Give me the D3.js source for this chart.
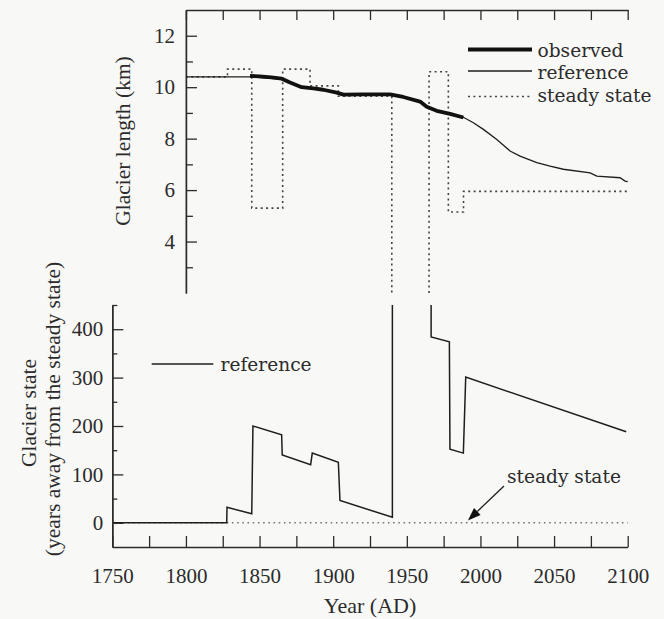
<!DOCTYPE html>
<html>
<head>
<meta charset="utf-8">
<script src="https://cdn.jsdelivr.net/npm/d3@7/dist/d3.min.js"></script>
<style>
  html, body { margin: 0; padding: 0; background: #f8f8f6; }
  svg { display: block; }
</style>
</head>
<body>
<svg id="chart" width="664" height="619"></svg>
<script>
// ---------------- DATA ----------------
// Top panel: glacier length (km)
const refTopYears = [1800, 1843.5, 1865.1, 1870.7, 1878.6, 1886.5, 1893.3, 1902.4, 1906.9, 1938.6, 1947.6, 1959.0, 1963.5, 1970.3, 1979.4, 1988.4, 1995.2, 2002.0, 2011.1, 2020.1, 2026.9, 2038.3, 2047.3, 2056.3, 2074.5, 2079.0, 2094.8, 2098.2, 2100];
const refTopKm    = [10.40, 10.40, 10.31, 10.18, 9.99, 9.95, 9.90, 9.79, 9.70, 9.70, 9.62, 9.45, 9.26, 9.09, 8.96, 8.83, 8.62, 8.36, 7.97, 7.52, 7.32, 7.07, 6.93, 6.81, 6.67, 6.54, 6.48, 6.35, 6.33];

const obsYears = [1843.5, 1850, 1858, 1865.1, 1870.7, 1878.6, 1886.5, 1893.3, 1902.4, 1906.9, 1920, 1938.6, 1947.6, 1959.0, 1963.5, 1970.3, 1979.4, 1988.4];
const obsKm    = [10.44, 10.42, 10.38, 10.33, 10.18, 10.00, 9.95, 9.90, 9.79, 9.71, 9.72, 9.72, 9.62, 9.44, 9.24, 9.08, 8.96, 8.82];

// steady-state length, value holds from its year until the next year (null = off scale)
const ssYears = [1800, 1828.2, 1844.7, 1865.7, 1884.3, 1903.5, 1939.8, 1965.1, 1978.2, 1988.5, 2100];
const ssKm    = [10.40, 10.70, 5.30, 10.70, 10.05, 9.65, null, 10.60, 5.15, 5.95, 5.95];

// Bottom panel: glacier state (years away from the steady state); Infinity = off scale
const stateYears = [1750, 1827.7, 1827.9, 1844.7, 1845.5, 1865.0, 1865.4, 1884.7, 1885.8, 1903.5, 1904.6, 1940.2, 1940.2, 1966.5, 1966.5, 1978.9, 1979.3, 1988.4, 1990.0, 2099.0];
const stateVals  = [0, 0, 32, 18.5, 200, 182, 140, 120, 144, 125, 46, 11.5, Infinity, Infinity, 384, 374, 152, 144, 301, 188];

const steadyYears = [1750, 2100];
const steadyVals  = [0, 0];

// Axis ticks
const xTickYears   = d3.range(1750, 2101, 25);
const xLabelYears  = [1750, 1800, 1850, 1900, 1950, 2000, 2050, 2100];
const topTickYears = d3.range(1800, 2101, 25);
const kmMajor = [4, 6, 8, 10, 12];
const kmMinor = [3, 5, 7, 9, 11];
const stMajor = [0, 100, 200, 300, 400];
const stMinor = [50, 150, 250, 350, 450];

const topLegend = [
  {label: "observed", kind: "obs"},
  {label: "reference", kind: "ref"},
  {label: "steady state", kind: "ss"}
];

// ---------------- LAYOUT ----------------
const SERIF = "'Liberation Serif', 'Times New Roman', serif";
const LEGF = "'DejaVu Serif', 'Liberation Serif', serif";
const LEGSIZE = 18.6;
const INK = "#2b2b2b";
const svg = d3.select("#chart");
svg.append("rect").attr("width", 664).attr("height", 619).attr("fill", "#f8f8f6");

const x = d3.scaleLinear().domain([1750, 2100]).range([112.3, 627.7]);
const xTop = d3.scaleLinear().domain([1800, 2100]).range([x(1800), x(2100)]);
const yTop = d3.scaleLinear().domain([2, 13]).range([293, 10]);
const yBot = d3.scaleLinear().domain([-50, 450]).range([547, 305]);

function styleAxis(g, size) {
  g.attr("font-family", SERIF).attr("font-size", size);
  g.selectAll("path.domain").attr("stroke", INK).attr("stroke-width", 1.4);
  g.selectAll(".tick line").attr("stroke", INK).attr("stroke-width", 1.3);
  g.selectAll(".tick text").attr("fill", INK);
}

// ---- Top panel axes ----
const gTopX = svg.append("g").attr("transform", `translate(0,${yTop(13)})`)
  .call(d3.axisTop(xTop).tickValues(topTickYears).tickSizeInner(-10).tickSizeOuter(0).tickFormat(""));
styleAxis(gTopX, 21);

const gTopYMinor = svg.append("g").attr("transform", `translate(${xTop(1800)},0)`)
  .call(d3.axisLeft(yTop).tickValues(kmMinor).tickSizeInner(-7).tickSizeOuter(0).tickFormat(""));
styleAxis(gTopYMinor, 21);
const gTopY = svg.append("g").attr("transform", `translate(${xTop(1800)},0)`)
  .call(d3.axisLeft(yTop).tickValues(kmMajor).tickSizeInner(-11).tickSizeOuter(0).tickPadding(11));
styleAxis(gTopY, 21);

// ---- Bottom panel axes ----
const gBotX = svg.append("g").attr("transform", `translate(0,${yBot(-50)})`)
  .call(d3.axisBottom(x).tickValues(xTickYears).tickSizeInner(-11).tickSizeOuter(0).tickPadding(21)
    .tickFormat(d => xLabelYears.includes(d) ? String(d) : ""));
styleAxis(gBotX, 21);

const gBotYMinor = svg.append("g").attr("transform", `translate(${x(1750)},0)`)
  .call(d3.axisLeft(yBot).tickValues(stMinor).tickSizeInner(-5).tickSizeOuter(0).tickFormat(""));
styleAxis(gBotYMinor, 21);
const gBotY = svg.append("g").attr("transform", `translate(${x(1750)},0)`)
  .call(d3.axisLeft(yBot).tickValues(stMajor).tickSizeInner(-11).tickSizeOuter(0).tickPadding(9));
styleAxis(gBotY, 21);

// ---- Axis titles ----
svg.append("text").attr("transform", "translate(122,141) rotate(-90)")
  .attr("text-anchor", "middle").attr("dy", "0.35em")
  .attr("font-family", SERIF).attr("font-size", 21.5).attr("fill", INK)
  .text("Glacier length (km)");
svg.append("text").attr("transform", "translate(28,413) rotate(-90)")
  .attr("text-anchor", "middle").attr("dy", "0.35em")
  .attr("font-family", SERIF).attr("font-size", 21.5).attr("fill", INK)
  .text("Glacier state");
svg.append("text").attr("transform", "translate(52,409) rotate(-90)")
  .attr("text-anchor", "middle").attr("dy", "0.35em")
  .attr("font-family", SERIF).attr("font-size", 21.5).attr("fill", INK)
  .text("(years away from the steady state)");
svg.append("text").attr("x", (x(1750) + x(2100)) / 2).attr("y", 613)
  .attr("text-anchor", "middle")
  .attr("font-family", SERIF).attr("font-size", 22).attr("fill", INK)
  .text("Year (AD)");

// ---------------- TOP PANEL MARKS ----------------
const lineTop = d3.line().x(d => x(d[0])).y(d => yTop(d[1]));

// steady state (step)
const ssPts = [];
ssYears.forEach((yr, i) => {
  const v = ssKm[i];
  if (v === null) {
    ssPts.push({yr, v: yTop.domain()[0]});
    ssPts.push({gap: true});
    ssPts.push({yr: ssYears[i + 1], v: yTop.domain()[0]});
  } else {
    ssPts.push({yr, v});
  }
});
svg.append("path")
  .attr("d", d3.line().defined(d => !d.gap).curve(d3.curveStepAfter)
    .x(d => x(d.yr)).y(d => yTop(d.v))(ssPts))
  .attr("fill", "none").attr("stroke", "#444").attr("stroke-width", 1.6)
  .attr("stroke-dasharray", "2,3.4");

// reference
svg.append("path")
  .attr("d", lineTop(refTopYears.map((yr, i) => [yr, refTopKm[i]])))
  .attr("fill", "none").attr("stroke", "#1e1e1e").attr("stroke-width", 1.3);

// observed
svg.append("path")
  .attr("d", lineTop(obsYears.map((yr, i) => [yr, obsKm[i]])))
  .attr("fill", "none").attr("stroke", "#111").attr("stroke-width", 3.8)
  .attr("stroke-linejoin", "round");

// top legend
const legRowY = [56.5, 79, 101.5];
const legLineY = [49.5, 71, 96.5];
topLegend.forEach((d, i) => {
  const ln = svg.append("line").attr("x1", 468).attr("x2", 532)
    .attr("y1", legLineY[i]).attr("y2", legLineY[i]);
  if (d.kind === "obs") ln.attr("stroke", "#111").attr("stroke-width", 4);
  else if (d.kind === "ref") ln.attr("stroke", "#1e1e1e").attr("stroke-width", 1.3);
  else ln.attr("stroke", "#444").attr("stroke-width", 1.6).attr("stroke-dasharray", "2,3.4");
  svg.append("text").attr("x", 537.5).attr("y", legRowY[i])
    .attr("font-family", LEGF).attr("font-size", LEGSIZE).attr("fill", INK)
    .text(d.label);
});

// ---------------- BOTTOM PANEL MARKS ----------------
// steady state line at 0
svg.append("path")
  .attr("d", d3.line().x(d => x(d[0])).y(d => yBot(d[1]))(steadyYears.map((yr, i) => [yr, steadyVals[i]])))
  .attr("fill", "none").attr("stroke", "#777").attr("stroke-width", 1.4)
  .attr("stroke-dasharray", "1.6,3.6");

// reference glacier state
const stPts = [];
stateYears.forEach((yr, i) => {
  const v = stateVals[i];
  const vv = isFinite(v) ? v : yBot.domain()[1];
  if (i > 0 && !isFinite(v) && !isFinite(stateVals[i - 1])) stPts.push({gap: true});
  stPts.push({yr, v: vv});
});
svg.append("path")
  .attr("d", d3.line().defined(d => !d.gap).x(d => x(d.yr)).y(d => yBot(d.v))(stPts))
  .attr("fill", "none").attr("stroke", "#1e1e1e").attr("stroke-width", 1.5)
  .attr("stroke-linejoin", "miter");

// bottom legend
svg.append("line").attr("x1", 151.7).attr("x2", 213.3).attr("y1", 364).attr("y2", 364)
  .attr("stroke", "#1e1e1e").attr("stroke-width", 1.3);
svg.append("text").attr("x", 220.5).attr("y", 371)
  .attr("font-family", LEGF).attr("font-size", LEGSIZE).attr("fill", INK)
  .text("reference");

// steady state annotation with arrow
const tip = [x(1991.5), yBot(5)];
const tail = [x(2016), yBot(76)];
svg.append("text").attr("x", x(2018)).attr("y", yBot(82))
  .attr("font-family", LEGF).attr("font-size", LEGSIZE).attr("fill", INK)
  .text("steady state");
const dx = tip[0] - tail[0], dy = tip[1] - tail[1];
const len = Math.hypot(dx, dy), ux = dx / len, uy = dy / len;
const hl = 13, hw = 4.8;
const base = [tip[0] - ux * hl, tip[1] - uy * hl];
svg.append("line").attr("x1", tail[0]).attr("y1", tail[1]).attr("x2", base[0]).attr("y2", base[1])
  .attr("stroke", "#1e1e1e").attr("stroke-width", 1.3);
svg.append("path")
  .attr("d", `M${tip[0]},${tip[1]} L${base[0] - uy * hw},${base[1] + ux * hw} L${base[0] + uy * hw},${base[1] - ux * hw} Z`)
  .attr("fill", "#111");
</script>
</body>
</html>
